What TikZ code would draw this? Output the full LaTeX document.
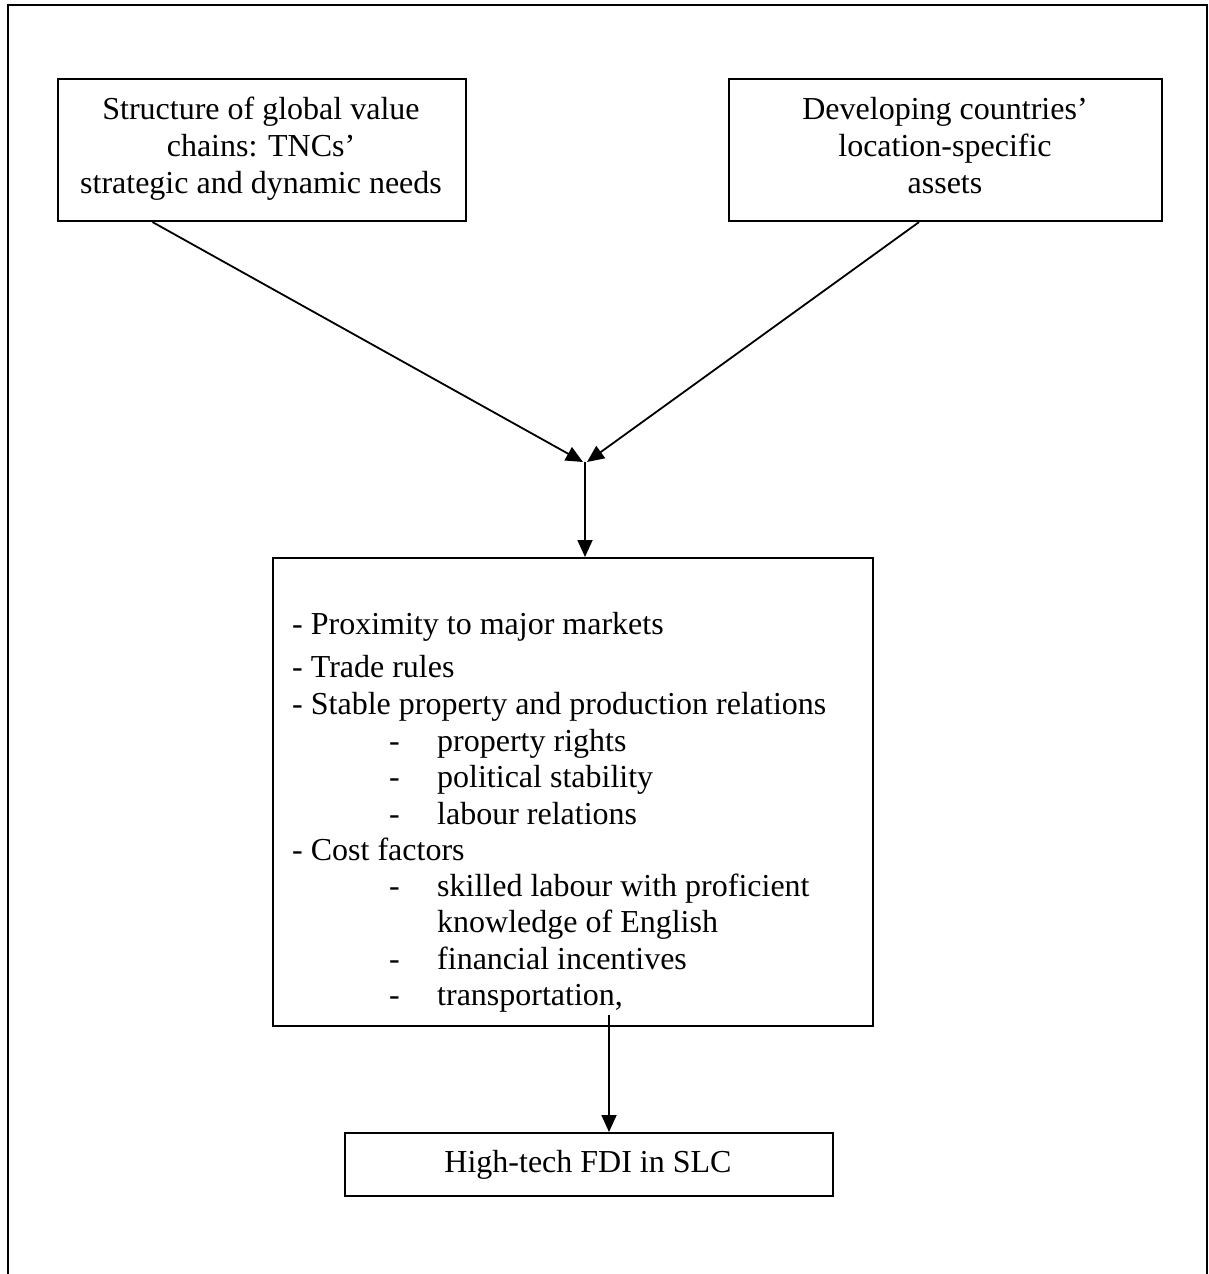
\documentclass[tikz,border=0pt]{standalone}
\usepackage{fontspec}
\setmainfont{Liberation Serif}
\usetikzlibrary{arrows.meta,calc}
\begin{document}
\begin{tikzpicture}[x=1pt,y=-1pt,
  box/.style={draw, line width=2.1pt, inner sep=0pt, anchor=north west},
  txt/.style={font=\fontsize{32}{36.8}\selectfont, inner sep=0pt, anchor=base},
  item/.style={txt, anchor=base west},
  arr/.style={line width=1.8pt, -{Triangle[length=17pt,width=15pt]}},
  ]
\useasboundingbox (0,0) rectangle (1209,1274);
% outer frame (open at the bottom)
\draw[line width=2.1pt] (8,1274) -- (8,5) -- (1207,5) -- (1207,1274);

% top boxes
\node[box, minimum width=408pt, minimum height=142pt] (L) at (57,78) {};
\node[txt] (L1) at (261,119) {Structure of global value};
\node[txt] (L2) at (261,156) {chains: TNCs’};
\node[txt] (L3) at (261,193) {strategic and dynamic needs};

\node[box, minimum width=433pt, minimum height=142pt] (R) at (728,78) {};
\node[txt] (R1) at (945,119) {Developing countries’};
\node[txt] (R2) at (945,156) {location-specific};
\node[txt] (R3) at (945,193) {assets};

% middle box
\node[box, minimum width=600pt, minimum height=468pt] (M) at (272,557) {};
\node[item] (m1) at (292,634) {- Proximity to major markets};
\node[item] (m2) at (292,677) {- Trade rules};
\node[item] (m3) at (292,714) {- Stable property and production relations};
\node[item] (d1) at (389,751) {-};
\node[item] (m4) at (437,751) {property rights};
\node[item] (d2) at (389,787) {-};
\node[item] (m5) at (437,787) {political stability};
\node[item] (d3) at (389,824) {-};
\node[item] (m6) at (437,824) {labour relations};
\node[item] (m7) at (292,860) {- Cost factors};
\node[item] (d4) at (389,896) {-};
\node[item] (m8) at (437,896) {skilled labour with proficient};
\node[item] (m9) at (437,932) {knowledge of English};
\node[item] (d5) at (389,969) {-};
\node[item] (m10) at (437,969) {financial incentives};
\node[item] (d6) at (389,1005) {-};
\node[item] (m11) at (437,1005) {transportation,};

% bottom box
\node[box, minimum width=488pt, minimum height=63pt] (B) at (344,1132) {};
\node[txt] (B1) at (588,1172) {High-tech FDI in SLC};

% connectors
\coordinate (J) at (585,462);
\coordinate (K) at (609,1015);
\draw[arr] ($(L.south west)!0.233!(L.south east)$) -- ([xshift=-2pt]J);
\draw[arr] ($(R.south west)!0.439!(R.south east)$) -- ([xshift=2pt]J);
\draw[arr] (J) -- (J |- M.north);
\draw[arr] (K) -- (K |- B.north);
\end{tikzpicture}
\end{document}
